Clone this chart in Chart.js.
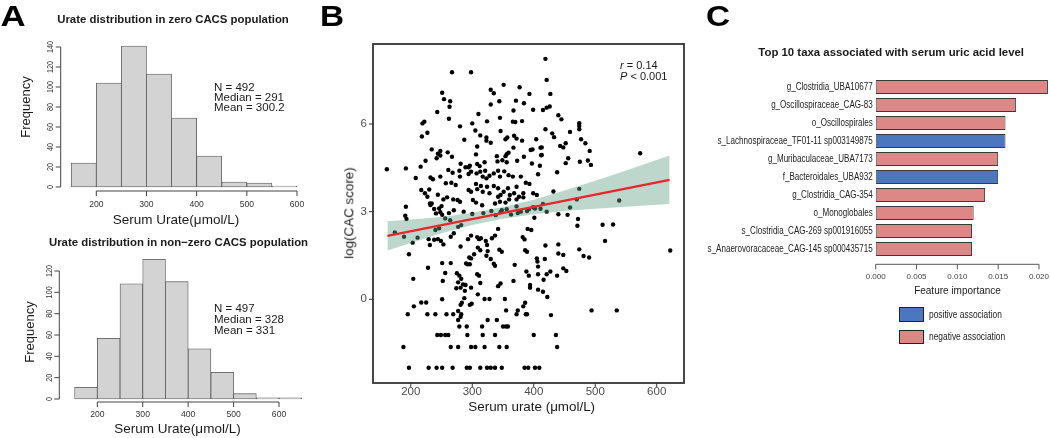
<!DOCTYPE html>
<html>
<head>
<meta charset="utf-8">
<script src="https://cdn.jsdelivr.net/npm/chart.js@4.4.1/dist/chart.umd.min.js"></script>
<style>
  html, body { margin: 0; padding: 0; background: #fff; }
  #page { position: relative; width: 1050px; height: 438px; overflow: hidden; background: #fff; }
  #page canvas { position: absolute; left: 0; top: 0; }
  .lbl { position: absolute; white-space: nowrap; line-height: 1; color: #1a1a1a;
         font-family: "Liberation Sans", Arial, Helvetica, sans-serif; transform-origin: 50% 50%; }
  .box { position: absolute; border: 1px solid #222; box-sizing: border-box; }
</style>
</head>
<body>
<div id="page">
  <canvas id="histZero" width="1050" height="438"></canvas>
  <canvas id="histNonZero" width="1050" height="438"></canvas>
  <canvas id="scatterB" width="1050" height="438"></canvas>
  <canvas id="taxaC" width="1050" height="438"></canvas>
</div>
<script>
// ---- Panel A: urate histograms (bins of 50 starting at 150) ----
const binStarts = [150, 200, 250, 300, 350, 400, 450, 500, 550, 600]
const zeroCounts = [24, 104, 141, 113, 69, 31, 5, 4, 1]
const nonZeroCounts = [11, 57, 108, 131, 110, 47, 25, 5, 1, 1]
const urateTicks = [200, 300, 400, 500, 600]
const zeroFreqTicks = [0, 20, 40, 60, 80, 100, 120, 140]
const nonZeroFreqTicks = [0, 20, 40, 60, 80, 100, 120]

// ---- Panel B: serum urate vs log(CAC score) ----
const scatterUrate = [
  419, 267, 298, 421, 351, 330, 335, 377, 393, 251, 254, 264, 263, 262, 243, 310, 344, 330, 371, 384,
  367, 399, 415, 421, 345, 324, 366, 370, 381, 300, 280, 222, 219, 227, 218, 305, 313, 323, 323, 330,
  308, 306, 287, 346, 357, 354, 368, 372, 381, 356, 359, 367, 395, 398, 404, 411, 419, 234, 248, 244,
  248, 260, 267, 242, 224, 216, 161, 192, 281, 289, 294, 296, 308, 312, 320, 340, 341, 349, 354, 356,
  373, 384, 397, 412, 208, 232, 236, 248, 261, 268, 279, 280, 294, 298, 307, 313, 321, 317, 323, 328,
  335, 342, 345, 352, 359, 366, 379, 407, 266, 257, 273, 217, 223, 230, 227, 231, 234, 244, 253, 259,
  269, 276, 280, 250, 246, 294, 298, 306, 308, 314, 317, 324, 328, 301, 306, 316, 335, 342, 346, 351,
  342, 358, 361, 368, 372, 376, 383, 387, 393, 399, 405, 337, 345, 354, 360, 372, 383, 192, 348, 399,
  427, 426, 440, 445, 430, 433, 459, 474, 474, 474, 477, 484, 491, 443, 448, 452, 413, 413, 410, 456,
  452, 475, 488, 493, 438, 573, 432, 474, 470, 459, 539, 415,
  440, 455, 472, 471, 512, 529, 516, 622, 440, 440, 448, 474, 481, 490, 448, 453, 438, 427, 421, 422,
  428, 494, 535, 436, 438,
  174, 189, 191, 193, 211, 203, 197, 204, 232, 238, 241, 248, 251, 256, 264, 240, 246, 238, 244, 249,
  253, 231, 229, 228, 251, 265, 256, 252, 265, 270, 277, 282, 281, 275, 279, 282, 277, 274, 281, 298,
  293, 295, 298, 290, 296, 292, 303, 308, 311, 314, 309, 313, 322, 324, 323, 308, 311, 313, 285, 289,
  288, 298, 309, 296, 299, 287, 281, 277, 282, 281, 277, 279, 291, 325, 330, 335, 337, 332, 337, 342,
  344, 348, 342, 346, 328, 320, 325, 340, 350, 355, 358, 353, 355, 367, 369, 383, 386, 374, 389, 388,
  392, 394, 394, 405, 406, 407, 386, 389, 382, 385, 396, 390, 401, 402, 389, 374, 407, 407, 415, 416,
  419, 418, 400, 251, 205, 283,
  197, 229, 242, 251, 268, 291, 296, 313, 324, 330, 337, 348, 385, 391, 402, 409,
  188, 265, 277, 298, 305, 320, 344, 356,
  243, 249, 256, 261, 292, 317, 337,
  316,
  195, 227, 240, 258, 269, 372, 387,
  217, 225,
  270, 286, 300, 318, 331, 346, 356, 363, 379, 392, 411, 421, 262, 338, 372,
]
const scatterLogCac = [
  8.23, 7.77, 7.77, 7.51, 7.34, 7.17, 7.05, 7.26, 7.03, 7.07, 6.85, 6.78, 6.59, 6.18, 6.41, 6.34, 6.78, 6.67, 6.80, 6.71,
  6.46, 6.49, 6.48, 6.56, 6.21, 6.09, 6.08, 6.07, 6.10, 6.02, 5.92, 6.08, 6.02, 5.70, 5.57, 5.78, 5.61, 5.54, 5.43, 5.36,
  5.23, 4.96, 5.46, 5.76, 5.54, 5.48, 5.60, 5.50, 5.43, 4.97, 5.02, 5.19, 5.11, 5.13, 5.48, 5.19, 5.82, 5.13, 5.08, 4.98,
  4.92, 5.03, 4.88, 4.83, 4.74, 4.54, 4.45, 4.48, 4.64, 4.52, 4.52, 4.57, 4.63, 4.56, 4.69, 4.90, 4.72, 4.76, 4.90, 4.69,
  4.74, 4.88, 4.65, 4.93, 4.15, 4.17, 4.11, 4.20, 4.43, 4.33, 4.40, 4.20, 4.29, 4.37, 4.31, 4.37, 4.40, 4.20, 4.14, 4.23,
  4.31, 4.40, 4.20, 4.38, 4.25, 4.20, 4.20, 4.28, 3.99, 3.97, 3.91, 3.74, 3.63, 3.76, 3.51, 3.28, 3.28, 3.58, 3.42, 3.49,
  3.42, 3.40, 3.34, 3.19, 3.11, 3.74, 3.68, 3.95, 3.77, 3.88, 3.68, 3.85, 3.63, 3.40, 3.31, 3.22, 3.88, 3.80, 3.57, 3.68,
  3.51, 3.80, 3.57, 3.63, 3.85, 3.51, 3.63, 3.99, 3.95, 3.63, 3.57, 3.28, 3.34, 3.31, 3.42, 3.42, 3.49, 3.17, 3.05, 3.15,
  7.03, 6.60, 6.30, 6.16, 5.68, 5.55, 5.73, 6.03, 5.93, 5.82, 5.48, 5.34, 5.08, 5.25, 5.20, 5.34, 5.20, 4.94, 4.57, 4.83,
  4.66, 4.71, 4.75, 4.60, 4.35, 5.00, 3.69, 3.78, 3.42, 3.14, 3.38, 3.26,
  2.91, 2.89, 2.75, 2.52, 2.55, 2.56, 2.00, 1.67, 1.88, 1.57, 1.52, 1.71, 1.48, 1.43, 1.06, 0.97, 0.81, 0.95, 0.86, 0.08,
  -0.54, -0.38, -0.38, -1.22, -1.63,
  2.29, 2.14, 2.86, 2.75, 2.11, 1.94, 1.54, 0.70, 3.23, 3.09, 2.94, 2.98, 2.89, 2.77, 2.71, 2.37, 2.43, 2.04, 2.06, 2.00,
  1.88, 1.86, 2.06, 1.08, 1.24, 1.24, 0.90, 0.63, 2.14, 2.26, 2.48, 2.54, 1.81, 0.89, 0.81, 0.70, 0.58, 0.38, 0.40, 2.18,
  2.06, 1.43, 1.40, 1.23, 1.20, 1.20, 1.54, 2.13, 2.06, 2.09, 1.77, 1.68, 2.00, 1.86, 1.49, 0.86, 0.81, 0.56, 0.51, 0.49,
  0.29, 0.40, 0.17, -0.19, -0.15, 0.04, -0.19, -0.40, -0.51, -0.60, -0.71, -0.93, -0.93, 1.65, 1.38, 1.22, 1.15, 2.09, 2.18, 2.41,
  1.70, 1.63, 0.45, 0.54, 0.01, 0.01, -0.71, -0.71, -0.93, -0.93, -0.93, 0.01, -0.38, 0.63, 1.18, -0.24, -0.12, -0.38, -0.51, 0.95,
  0.81, 0.49, 0.40, 1.40, 1.29, 1.12, 1.68, 1.63, 2.13, 2.05, 2.37, 2.41, 2.79, 3.11, 3.02, 2.95, 0.86, 0.33, 0.26, 0.67,
  1.84, 1.38, -1.22, 0.00, -0.24, -0.12,
  -2.34, -2.34, -2.34, -2.34, -2.34, -2.34, -2.34, -2.34, -2.34, -2.34, -2.34, -2.34, -2.34, -2.34, -2.34, -2.34,
  -1.63, -1.63, -1.63, -1.63, -1.63, -1.63, -1.63, -1.63,
  -1.22, -1.22, -1.22, -1.22, -1.22, -1.22, -1.22,
  -0.93,
  -0.51, -0.51, -0.51, -0.51, -0.51, -0.51, -0.51,
  -0.11, -0.11,
  3.05, 3.00, 2.92, 2.95, 3.02, 2.98, 3.08, 2.90, 3.00, 3.08, 3.10, 3.00, 2.95, 2.88, 3.18,
]
const fitUrate = [162, 621]
const fitLogCac = [2.17, 4.09]
const bandUrate = [162, 200, 250, 300, 350, 400, 450, 500, 550, 621]
const bandLower = [1.67, 1.93, 2.26, 2.54, 2.76, 2.91, 3.02, 3.10, 3.17, 3.26]
const bandUpper = [2.67, 2.73, 2.82, 2.96, 3.16, 3.41, 3.72, 4.06, 4.41, 4.92]
const scatterUrateTicks = [200, 300, 400, 500, 600]
const logTicks = [0, 3, 6]

// ---- Panel C: top 10 taxa ----
const taxa = [
  "g_Clostridia_UBA10677",
  "g_Oscillospiraceae_CAG-83",
  "o_Oscillospirales",
  "s_Lachnospiraceae_TF01-11 sp003149875",
  "g_Muribaculaceae_UBA7173",
  "f_Bacteroidales_UBA932",
  "g_Clostridia_CAG-354",
  "o_Monoglobales",
  "s_Clostridia_CAG-269 sp001916055",
  "s_Anaerovoracaceae_CAG-145 sp000435715",
]
const importance = [0.0211, 0.0172, 0.0159, 0.0159, 0.0150, 0.0150, 0.0134, 0.0120, 0.0118, 0.0118]
const association = ["negative", "negative", "negative", "positive", "negative", "positive", "negative", "negative", "negative", "negative"]
const importanceTicks = [0, 0.005, 0.01, 0.015, 0.02]

const FONT = '"Liberation Sans", Arial, Helvetica, sans-serif'
const POS_COLOR = "#4a77be"
const NEG_COLOR = "#de8787"

// R-style axes drawn from the chart's own scales
const axisPainter = {
  id: "axisPainter",
  afterDraw(chart, args, opts) {
    const ctx = chart.ctx
    const area = chart.chartArea
    ;(opts.axes || []).forEach((ax) => {
      const scale = chart.scales[ax.scale]
      const horiz = ax.scale === "x"
      const pos = horiz ? area.bottom + (ax.offset || 0) : area.left - (ax.offset || 0)
      const px = ax.values.map((v) => scale.getPixelForValue(v))
      ctx.save()
      ctx.strokeStyle = ax.color || "#333"
      ctx.lineWidth = ax.lineWidth || 1
      ctx.beginPath()
      if (ax.line) {
        if (horiz) {
          ctx.moveTo(px[0], pos)
          ctx.lineTo(px[px.length - 1], pos)
        } else {
          ctx.moveTo(pos, px[0])
          ctx.lineTo(pos, px[px.length - 1])
        }
      }
      if (ax.tickLen) {
        px.forEach((p) => {
          if (horiz) {
            ctx.moveTo(p, pos)
            ctx.lineTo(p, pos + ax.tickLen)
          } else {
            ctx.moveTo(pos, p)
            ctx.lineTo(pos - ax.tickLen, p)
          }
        })
      }
      ctx.stroke()
      ctx.fillStyle = ax.textColor || "#222"
      ctx.font = ax.font
      ctx.textBaseline = "middle"
      px.forEach((p, i) => {
        const text = ax.labels ? ax.labels[i] : String(ax.values[i])
        ctx.save()
        if (horiz) {
          ctx.translate(p, pos + ax.gap)
          ctx.textAlign = "center"
        } else if (ax.rotate) {
          ctx.translate(pos - ax.gap, p)
          ctx.rotate(-Math.PI / 2)
          ctx.textAlign = "center"
        } else {
          ctx.translate(pos - ax.gap, p)
          ctx.textAlign = "right"
        }
        if (ax.squeeze) ctx.scale(ax.squeeze, 1)
        ctx.fillText(text, 0, 0)
        ctx.restore()
      })
      ctx.restore()
    })
  },
}

// box around the scatter panel
const panelFrame = {
  id: "panelFrame",
  afterDatasetsDraw(chart, args, opts) {
    if (!opts.show) return
    const a = chart.chartArea
    const ctx = chart.ctx
    ctx.save()
    ctx.strokeStyle = opts.color
    ctx.lineWidth = opts.width
    ctx.strokeRect(a.left, a.top, a.right - a.left, a.bottom - a.top)
    ctx.restore()
  },
}
Chart.register(axisPainter, panelFrame)

function padFor(area) {
  return { left: area.left, top: area.top, right: 1050 - area.right, bottom: 438 - area.bottom }
}

const baseOptions = {
  responsive: false,
  animation: false,
  events: [],
}

function histogram(id, counts, area, xRange, yRange, freqTicks, xGap, yGap) {
  const data = counts.map((c, i) => ({ x: binStarts[i] + 25, y: c }))
  return new Chart(document.getElementById(id), {
    type: "bar",
    data: {
      datasets: [
        {
          data,
          backgroundColor: "#d3d3d3",
          borderColor: "#555",
          borderWidth: 0.8,
          borderSkipped: false,
          barPercentage: 1,
          categoryPercentage: 1,
        },
      ],
    },
    options: {
      ...baseOptions,
      layout: { padding: padFor(area) },
      plugins: {
        legend: { display: false },
        tooltip: { enabled: false },
        axisPainter: {
          axes: [
            { scale: "x", values: urateTicks, line: true, tickLen: 5, gap: xGap, font: `8.6px ${FONT}`, color: "#444", textColor: "#333" },
            { scale: "y", values: freqTicks, line: true, tickLen: 5, gap: yGap, rotate: true, squeeze: 0.85, font: `8.6px ${FONT}`, color: "#444", textColor: "#333" },
          ],
        },
      },
      scales: {
        x: { type: "linear", offset: false, min: xRange[0], max: xRange[1], display: false },
        y: { min: yRange[0], max: yRange[1], display: false },
      },
    },
  })
}

histogram("histZero", zeroCounts, { left: 60.7, right: 310, top: 40, bottom: 191 }, [129.05, 625.9], [-4, 147], zeroFreqTicks, 14, 10.5)
histogram("histNonZero", nonZeroCounts, { left: 59.3, right: 310, top: 250, bottom: 402 }, [116.3, 668.2], [-2.81, 139.7], nonZeroFreqTicks, 13, 9.5)

// Panel B scatter
const scatterPoints = scatterUrate.map((u, i) => ({ x: u, y: scatterLogCac[i] }))
const fitPoints = fitUrate.map((u, i) => ({ x: u, y: fitLogCac[i] }))
const upperPoints = bandUrate.map((u, i) => ({ x: u, y: bandUpper[i] }))
const lowerPoints = bandUrate.map((u, i) => ({ x: u, y: bandLower[i] }))

new Chart(document.getElementById("scatterB"), {
  type: "scatter",
  data: {
    datasets: [
      { type: "line", data: fitPoints, borderColor: "#e8262b", borderWidth: 2.2, pointRadius: 0, fill: false },
      { type: "line", data: upperPoints, borderColor: "transparent", borderWidth: 1, pointRadius: 0, fill: "+1", backgroundColor: "rgba(100,160,137,0.42)" },
      { type: "line", data: lowerPoints, borderColor: "transparent", borderWidth: 1, pointRadius: 0, fill: false },
      { data: scatterPoints, pointRadius: 2.2, backgroundColor: "#000", borderWidth: 0 },
    ],
  },
  options: {
    ...baseOptions,
    layout: { padding: padFor({ left: 373, right: 684, top: 44, bottom: 383 }) },
    plugins: {
      legend: { display: false },
      tooltip: { enabled: false },
      panelFrame: { show: true, color: "#333", width: 1.8 },
      axisPainter: {
        axes: [
          { scale: "x", values: scatterUrateTicks, tickLen: 4, gap: 8.5, font: `11.5px ${FONT}`, color: "#333", textColor: "#4d4d4d" },
          { scale: "y", values: logTicks, tickLen: 4, gap: 6, font: `11.5px ${FONT}`, color: "#333", textColor: "#4d4d4d" },
        ],
      },
    },
    scales: {
      x: { type: "linear", min: 138.5, max: 644.4, display: false },
      y: { type: "linear", min: -2.864, max: 8.738, display: false },
    },
  },
})

// Panel C horizontal bars
new Chart(document.getElementById("taxaC"), {
  type: "bar",
  data: {
    labels: taxa,
    datasets: [
      {
        data: importance,
        backgroundColor: association.map((a) => (a === "positive" ? POS_COLOR : NEG_COLOR)),
        borderColor: "#3a3a3a",
        borderWidth: 1,
        borderSkipped: false,
        barPercentage: 0.78,
        categoryPercentage: 1,
      },
    ],
  },
  options: {
    ...baseOptions,
    indexAxis: "y",
    layout: { padding: padFor({ left: 875.7, right: 1050, top: 78, bottom: 258 }) },
    plugins: {
      legend: { display: false },
      tooltip: { enabled: false },
      axisPainter: {
        axes: [
          { scale: "x", values: importanceTicks, labels: importanceTicks.map((v) => v.toFixed(3)), offset: 6.3, line: true, tickLen: 5, gap: 12.7, font: `8px ${FONT}`, color: "#555", textColor: "#444" },
          { scale: "y", values: taxa.map((t, i) => i), labels: taxa, gap: 3, squeeze: 0.805, font: `10px ${FONT}`, textColor: "#222" },
        ],
      },
    },
    scales: {
      x: { type: "linear", min: 0, max: 0.02135, display: false },
      y: { display: false },
    },
  },
})

// ---- text labels ----
const page = document.getElementById("page")
function addText(html, x, y, o = {}) {
  const el = document.createElement("div")
  el.className = "lbl"
  el.innerHTML = html
  el.style.left = x + "px"
  el.style.top = y + "px"
  el.style.fontSize = (o.size || 11) + "px"
  el.style.fontWeight = o.weight || "normal"
  if (o.color) el.style.color = o.color
  const tx = o.align === "left" ? "0%" : o.align === "right" ? "-100%" : "-50%"
  let t = `translate(${tx}, -50%)`
  if (o.rotate) t += ` rotate(${o.rotate}deg)`
  if (o.stretch) {
    if (o.align === "left") el.style.transformOrigin = "0% 50%"
    if (o.align === "right") el.style.transformOrigin = "100% 50%"
    t += ` scaleX(${o.stretch})`
  }
  el.style.transform = t
  page.appendChild(el)
}

addText("A", 13, 15.5, { size: 29, weight: "bold", color: "#000", stretch: 1.2 })
addText("B", 332, 16, { size: 29, weight: "bold", color: "#000", stretch: 1.15 })
addText("C", 718, 16, { size: 29, weight: "bold", color: "#000", stretch: 1.15 })

addText("Urate distribution in zero CACS population", 173, 20, { size: 11.4, weight: "bold" })
addText("Urate distribution in non\u2212zero CACS population", 178.5, 243, { size: 11.4, weight: "bold" })
addText("Frequency", 25, 107, { size: 13, rotate: -90 })
addText("Frequency", 29, 331.5, { size: 13, rotate: -90 })
addText("Serum Urate(\u03bcmol/L)", 176, 220, { size: 13.5 })
addText("Serum Urate(\u03bcmol/L)", 177.5, 429, { size: 13.5 })
addText("N = 492", 214, 87.5, { size: 11.5, align: "left" })
addText("Median = 291", 214, 97.5, { size: 11.5, align: "left" })
addText("Mean = 300.2", 214, 107.5, { size: 11.5, align: "left" })
addText("N = 497", 214, 308.5, { size: 11.5, align: "left" })
addText("Median = 328", 214, 319.5, { size: 11.5, align: "left" })
addText("Mean = 331", 214, 330.5, { size: 11.5, align: "left" })

addText("Serum urate (\u03bcmol/L)", 531.7, 407, { size: 13.4 })
addText("log(CAC score)", 349, 213, { size: 13.4, rotate: -90 })
addText("<i>r</i> = 0.14", 620, 65, { size: 11, align: "left" })
addText("<i>P</i> &lt; 0.001", 620, 75.5, { size: 11, align: "left" })

addText("Top 10 taxa associated with serum uric acid level", 1024, 53, { size: 11.4, weight: "bold", align: "right" })
addText("Feature importance", 957.5, 290.7, { size: 10 })
addText("positive association", 929, 314.5, { size: 10, align: "left", stretch: 0.84 })
addText("negative association", 929, 337, { size: 10, align: "left", stretch: 0.84 })

function addBox(x, y, w, h, color) {
  const el = document.createElement("div")
  el.className = "box"
  Object.assign(el.style, { left: x + "px", top: y + "px", width: w + "px", height: h + "px", background: color })
  page.appendChild(el)
}
addBox(899, 307, 25, 15, POS_COLOR)
addBox(899, 330, 25, 14, NEG_COLOR)
</script>
</body>
</html>
